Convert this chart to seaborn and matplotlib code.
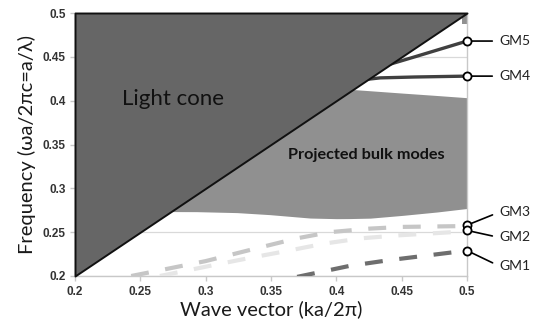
import numpy as np
import pandas as pd
import matplotlib
matplotlib.use("Agg")
import matplotlib.pyplot as plt
import seaborn as sns

# Axis range (normalised units)
K_MIN, K_MAX = 0.2, 0.5
F_MIN, F_MAX = 0.2, 0.5

# Light line: omega = k
light_k = [0.2, 0.5]

# Projected bulk band (lower / upper edge)
bulk_k = [0.27, 0.293, 0.324, 0.349, 0.38, 0.40, 0.41, 0.426, 0.451, 0.477, 0.5]
bulk_lo = [0.2735, 0.2734, 0.2723, 0.270, 0.2661, 0.2654, 0.2655, 0.266,
           0.2692, 0.273, 0.277]
bulk_hi = [0.413, 0.413, 0.413, 0.413, 0.413, 0.413, 0.413, 0.4113,
           0.4086, 0.4059, 0.4034]

# Upper bulk band sliver near the zone edge
top_k = [0.496, 0.5]
top_lo = [0.4875, 0.4875]
top_hi = [0.5, 0.5]

# Guided modes
gm5_k = [0.442, 0.46, 0.48, 0.5]
gm5_f = [0.442, 0.450, 0.459, 0.468]
gm4_k = [0.4245, 0.4335, 0.46, 0.5]
gm4_f = [0.4245, 0.426, 0.427, 0.428]
gm3_k = [0.243, 0.27, 0.30, 0.34, 0.37, 0.395, 0.425, 0.45, 0.5]
gm3_f = [0.200, 0.208, 0.217, 0.232, 0.243, 0.250, 0.254, 0.256, 0.257]
gm2_k = [0.265, 0.307, 0.335, 0.362, 0.391, 0.419, 0.449, 0.5]
gm2_f = [0.200, 0.2127, 0.221, 0.2285, 0.237, 0.243, 0.2465, 0.251]
gm1_k = [0.37, 0.41, 0.44, 0.47, 0.5]
gm1_f = [0.199, 0.2115, 0.218, 0.2235, 0.229]

# Gamma-point markers and their labels
gm_names = ["GM5", "GM4", "GM3", "GM2", "GM1"]
gm_freq = [0.468, 0.428, 0.258, 0.252, 0.229]
gm_label_f = [0.468, 0.428, 0.2727, 0.244, 0.2115]

ticks = [0.2, 0.25, 0.3, 0.35, 0.4, 0.45, 0.5]
tick_labels = ["0.2", "0.25", "0.3", "0.35", "0.4", "0.45", "0.5"]

sns.set_theme(style="white")
plt.rcParams["font.family"] = ["Lato", "DejaVu Sans"]

fig = plt.figure(figsize=(5.45, 3.31), dpi=100)
ax = fig.add_axes([75 / 545, 55 / 331, 392 / 545, 263 / 331])
ax.set_xlim(K_MIN, K_MAX)
ax.set_ylim(F_MIN, F_MAX)

# horizontal grid behind everything
ax.set_axisbelow(True)
ax.yaxis.grid(True, color="#d9d9d9", lw=0.9)
ax.xaxis.grid(False)

# bulk bands
ax.fill_between(bulk_k, bulk_lo, bulk_hi, color="#909090", lw=0, zorder=1)
ax.fill_between(top_k, top_lo, top_hi, color="#909090", lw=0, zorder=1)

# guided modes
grey_lines = [
    (gm3_k, gm3_f, "#c6c6c6"),
    (gm2_k, gm2_f, "#e6e6e6"),
    (gm1_k, gm1_f, "#6e6e6e"),
]
for k, f, c in grey_lines:
    sns.lineplot(x=k, y=f, ax=ax, color=c, lw=3, estimator=None, sort=False,
                 zorder=3)
    ax.lines[-1].set_linestyle((0, (4.3, 4.0)))
    ax.lines[-1].set_solid_capstyle("butt")
for k, f in [(gm5_k, gm5_f), (gm4_k, gm4_f)]:
    sns.lineplot(x=k, y=f, ax=ax, color="#404040", lw=2.4, estimator=None,
                 sort=False, zorder=3)

# light cone
ax.fill_between(light_k, light_k, F_MAX, facecolor="#666666",
                edgecolor="#111111", lw=1.4, zorder=4, clip_on=False)

# Gamma-point markers
sns.scatterplot(x=[K_MAX] * len(gm_freq), y=gm_freq, ax=ax, s=34,
                facecolor="white", edgecolor="black", linewidth=1.3,
                zorder=6, clip_on=False, legend=False)

for name, f, lf in zip(gm_names, gm_freq, gm_label_f):
    ax.annotate(name, xy=(K_MAX, f), xytext=(0.5245, lf), fontsize=10,
                color="#222222", ha="left", va="center",
                annotation_clip=False,
                arrowprops=dict(arrowstyle="-", color="black", lw=1.2,
                                shrinkA=2.5, shrinkB=3.2,
                                relpos=(0, 0.5)))

ax.text(0.2748, 0.402, "Light cone", fontsize=16, color="#111111",
        ha="center", va="center", zorder=7)
ax.text(0.4227, 0.338, "Projected bulk modes", fontsize=11.7,
        fontweight="bold", color="#111111", ha="center", va="center",
        zorder=7)

# axes styling
for side in ["left", "bottom", "right"]:
    ax.spines[side].set_visible(True)
    ax.spines[side].set_color("#c8c8c8")
    ax.spines[side].set_linewidth(1.0)
ax.spines["top"].set_visible(False)
ax.set_xticks(ticks)
ax.set_yticks(ticks)
ax.set_xticklabels(tick_labels, fontfamily="Liberation Sans",
                   fontweight="bold", fontsize=8.5, color="#333333")
ax.set_yticklabels(tick_labels, fontfamily="Liberation Sans",
                   fontweight="bold", fontsize=8.5, color="#333333")
ax.tick_params(axis="both", direction="out", length=3.5, width=1.0,
               color="#c8c8c8", bottom=True, left=True)
ax.tick_params(axis="x", pad=4)
ax.tick_params(axis="y", pad=3)

ax.set_xlabel("Wave vector (ka/2\u03c0)", fontsize=14.5, color="#1a1a1a",
              labelpad=1)
ax.set_ylabel("Frequency (\u03c9a/2\u03c0c=a/\u03bb)", fontsize=14.5,
              color="#1a1a1a", labelpad=5)

fig.savefig("out.png", dpi=100)
